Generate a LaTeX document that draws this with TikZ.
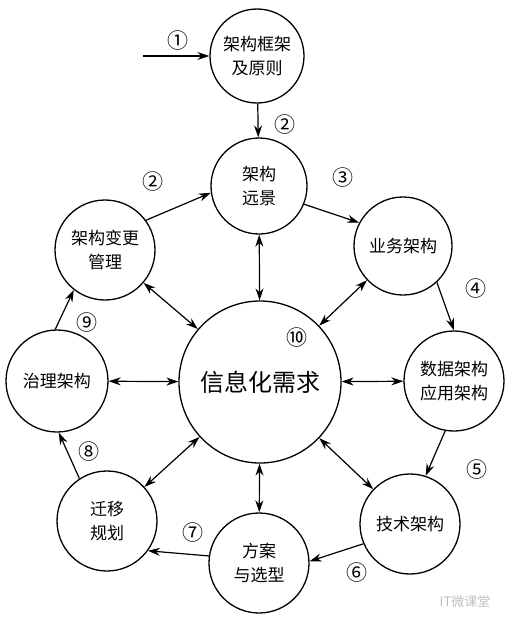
\documentclass[tikz,border=0pt]{standalone}
\usepackage{fontspec}
\setmainfont{Noto Sans CJK SC}
\usetikzlibrary{arrows.meta,positioning,calc}

\begin{document}
\begin{tikzpicture}[x=1pt, y=-1pt, >={Stealth[length=12pt,width=8pt]},
  stage/.style={draw, circle, line width=1.3pt, inner sep=0pt,
    minimum size=100pt, align=center, font=\fontsize{17}{24}\selectfont},
  flow/.style={->, line width=1.2pt},
  link/.style={<->, line width=1.2pt},
  num/.style={font=\fontsize{21}{21}\selectfont}]
  \useasboundingbox (0,0) rectangle (512,622);
  % centre circle
  \node[stage, minimum size=162pt, font=\fontsize{24}{24}\selectfont] (need) at (260,382) {信息化需求};
  % ring of stages
  \node[stage, minimum size=94pt] (frame) at (257,56) {架构框架\\及原则};
  \node[stage, minimum size=96pt] (vision) at (259,186) {架构\\远景};
  \node[stage, minimum size=98pt] (biz) at (403,246) {业务架构};
  \node[stage] (data) at (454,381) {数据架构\\应用架构};
  \node[stage] (tech) at (410,524) {技术架构};
  \node[stage] (plan) at (259,563) {方案\\与选型};
  \node[stage] (move) at (107,521) {迁移\\规划};
  \node[stage, minimum size=102pt] (gov) at (57,381) {治理架构};
  \node[stage] (change) at (105,250) {架构变更\\管理};
  % entry arrow
  \coordinate (entry) at (143,56);
  \draw[flow] (entry) -- (frame);
  % the cycle
  \draw[flow] (frame) -- (vision);
  \draw[flow] (vision.-22) -- (biz.152);
  \draw[flow] (biz.-47) -- (data.90);
  \draw[flow] (data.-100) -- (tech.72);
  \draw[flow] (tech.-157) -- (plan.2);
  \draw[flow] (plan.172) -- (move.-36);
  \draw[flow] (move.123) -- (gov.-88);
  \draw[flow] (gov.92) -- (change.-128);
  \draw[flow] (change.36) -- (vision.188);
  % links with the centre
  \draw[link] (vision) -- (need);
  \draw[link] (change) -- (need);
  \draw[link] (gov) -- (need);
  \draw[link] (biz) -- (need);
  \draw[link] (data) -- (need);
  \draw[link] (tech) -- (need);
  \draw[link] (plan) -- (need);
  \draw[link] (move) -- (need);
  % step numbers
  \node[num] (n1) at (178,41) {①};
  \node[num] (n2) at (285,125) {②};
  \node[num] (n2b) at (153,182) {②};
  \node[num] (n3) at (343,178) {③};
  \node[num] (n4) at (476,289) {④};
  \node[num] (n5) at (477,470) {⑤};
  \node[num] (n6) at (357,573) {⑥};
  \node[num] (n7) at (193,533) {⑦};
  \node[num] (n8) at (89,452) {⑧};
  \node[num] (n9) at (87,323) {⑨};
  \node[num] (n10) at (297,338) {⑩};
  % watermark
  \node[font=\fontsize{13}{13}\selectfont, text=black!25] (mark) at (465,602) {IT微课堂};
\end{tikzpicture}
\end{document}
